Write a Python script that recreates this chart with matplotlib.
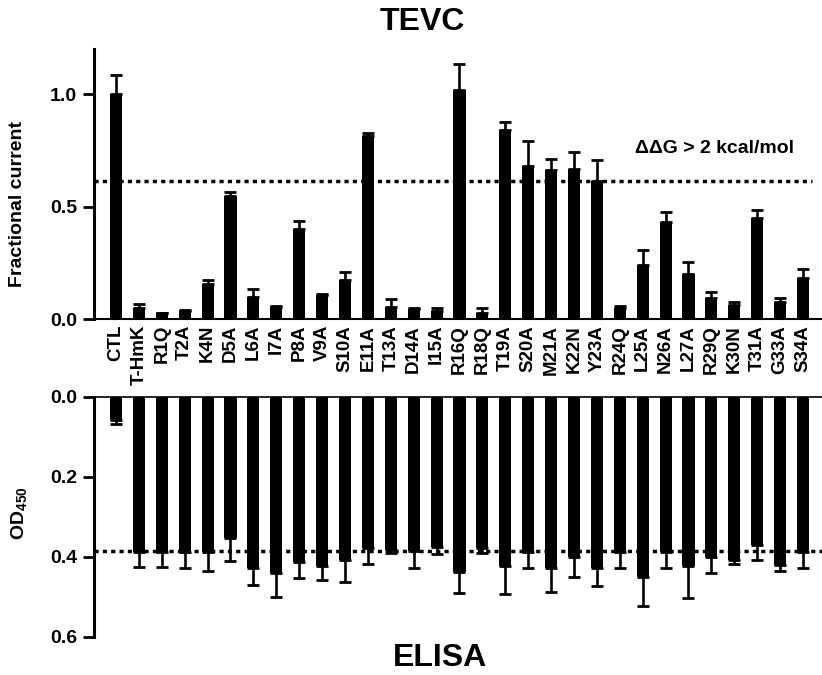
import matplotlib
matplotlib.use("Agg")
import matplotlib.pyplot as plt
import numpy as np

plt.rcParams['font.family'] = ['Liberation Sans', 'DejaVu Sans']
plt.rcParams['font.weight'] = 'bold'
plt.rcParams['mathtext.fontset'] = 'custom'
plt.rcParams['mathtext.bf'] = 'Liberation Sans:bold'
plt.rcParams['mathtext.rm'] = 'Liberation Sans:bold'

categories = ["CTL", "T-HmK", "R1Q", "T2A", "K4N", "D5A", "L6A", "I7A", "P8A", "V9A",
              "S10A", "E11A", "T13A", "D14A", "I15A", "R16Q", "R18Q", "T19A", "S20A",
              "M21A", "K22N", "Y23A", "R24Q", "L25A", "N26A", "L27A", "R29Q", "K30N",
              "T31A", "G33A", "S34A"]

tevc_current = [1.0, 0.052, 0.027, 0.037, 0.156, 0.548, 0.099, 0.056, 0.40, 0.108,
                0.175, 0.812, 0.056, 0.045, 0.038, 1.016, 0.027, 0.839, 0.679,
                0.661, 0.667, 0.616, 0.052, 0.241, 0.43, 0.20, 0.096, 0.064,
                0.449, 0.079, 0.182]
tevc_err = [0.086, 0.018, 0.003, 0.003, 0.019, 0.015, 0.034, 0.003, 0.037, 0.003,
            0.034, 0.015, 0.034, 0.004, 0.011, 0.117, 0.022, 0.035, 0.114,
            0.05, 0.074, 0.089, 0.009, 0.067, 0.047, 0.053, 0.024, 0.015,
            0.035, 0.017, 0.04]

elisa_od = [0.057, 0.388, 0.388, 0.388, 0.388, 0.354, 0.429, 0.44, 0.414, 0.423,
            0.408, 0.379, 0.383, 0.385, 0.375, 0.439, 0.379, 0.423, 0.388,
            0.429, 0.40, 0.429, 0.388, 0.45, 0.388, 0.423, 0.40, 0.407,
            0.371, 0.421, 0.388]
elisa_err = [0.01, 0.037, 0.037, 0.041, 0.047, 0.056, 0.042, 0.06, 0.04, 0.034,
             0.055, 0.04, 0.007, 0.043, 0.018, 0.051, 0.011, 0.069, 0.04,
             0.059, 0.05, 0.044, 0.04, 0.073, 0.04, 0.079, 0.04, 0.01,
             0.036, 0.014, 0.04]

tevc_threshold = 0.612
elisa_threshold = 0.385

W, H = 822, 675
fig = plt.figure(figsize=(W / 100, H / 100), dpi=100)

x = np.arange(len(categories))
bw = 0.53

# ---------- Top: TEVC ----------
ax1 = fig.add_axes([94 / W, 1 - 319.3 / H, (W - 94) / W, (319.3 - 49) / H])
n = len(categories)
ax1.bar(x, tevc_current, width=bw, color='black', zorder=2)
ax1.errorbar(x, tevc_current, yerr=[np.zeros(n), tevc_err], fmt='none',
             ecolor='black', elinewidth=1.9, capsize=4.3, capthick=2.0, zorder=2)
ax1.plot([-0.96, 30.4], [tevc_threshold] * 2, color='black', lw=2.5,
         linestyle=(0, (1.2, 1.2)), zorder=3, solid_capstyle='butt')
ax1.set_xlim(-0.96, 30.83)
ax1.set_ylim(0, 1.2)
ax1.set_yticks([0.0, 0.5, 1.0])
ax1.set_yticklabels(['0.0', '0.5', '1.0'])
ax1.set_xticks(x)
ax1.set_xticklabels(categories, rotation=90, fontsize=13.5, fontweight='bold')
ax1.tick_params(axis='x', length=0, pad=4)
ax1.tick_params(axis='y', length=8, width=2, pad=4, labelsize=14)
for s in ['top', 'right']:
    ax1.spines[s].set_visible(False)
ax1.spines['left'].set_linewidth(2.2)
ax1.spines['bottom'].set_linewidth(1.5)
ax1.text(22.66, 0.76, 'ΔΔG > 2 kcal/mol', fontsize=14, fontweight='bold',
         ha='left', va='center')

# ---------- Bottom: ELISA ----------
ax2 = fig.add_axes([94 / W, 1 - 636.7 / H, (W - 94) / W, 240 / H])
ax2.bar(x, elisa_od, width=bw, color='black', zorder=2)
ax2.errorbar(x, elisa_od, yerr=[np.zeros(n), elisa_err], fmt='none',
             ecolor='black', elinewidth=1.9, capsize=4.3, capthick=2.0, zorder=2)
ax2.plot([-0.96, 30.83], [elisa_threshold] * 2, color='black', lw=2.5,
         linestyle=(0, (1.2, 1.2)), zorder=3, solid_capstyle='butt')
ax2.set_xlim(-0.96, 30.83)
ax2.set_ylim(0.6, 0.0)
ax2.set_yticks([0.0, 0.2, 0.4, 0.6])
ax2.set_yticklabels(['0.0', '0.2', '0.4', '0.6'])
ax2.set_xticks([])
ax2.tick_params(axis='y', length=8, width=2, pad=4, labelsize=14)
for s in ['bottom', 'right']:
    ax2.spines[s].set_visible(False)
ax2.spines['left'].set_linewidth(2.2)
ax2.spines['top'].set_linewidth(1.2)

# ---------- Labels ----------
fig.text(18 / W, 1 - 204 / H, 'Fractional current', rotation=90, fontsize=14,
         fontweight='bold', ha='center', va='center')
fig.text(20 / W, 1 - 513 / H, r'$\mathbf{OD}_{\mathbf{450}}$', rotation=90,
         fontsize=14, ha='center', va='center')
fig.text(422 / W, 1 - 22 / H, 'TEVC', fontsize=23, fontweight='bold',
         ha='center', va='center')
fig.text(440 / W, 1 - 658 / H, 'ELISA', fontsize=23, fontweight='bold',
         ha='center', va='center')

fig.savefig('out.png', dpi=100)
